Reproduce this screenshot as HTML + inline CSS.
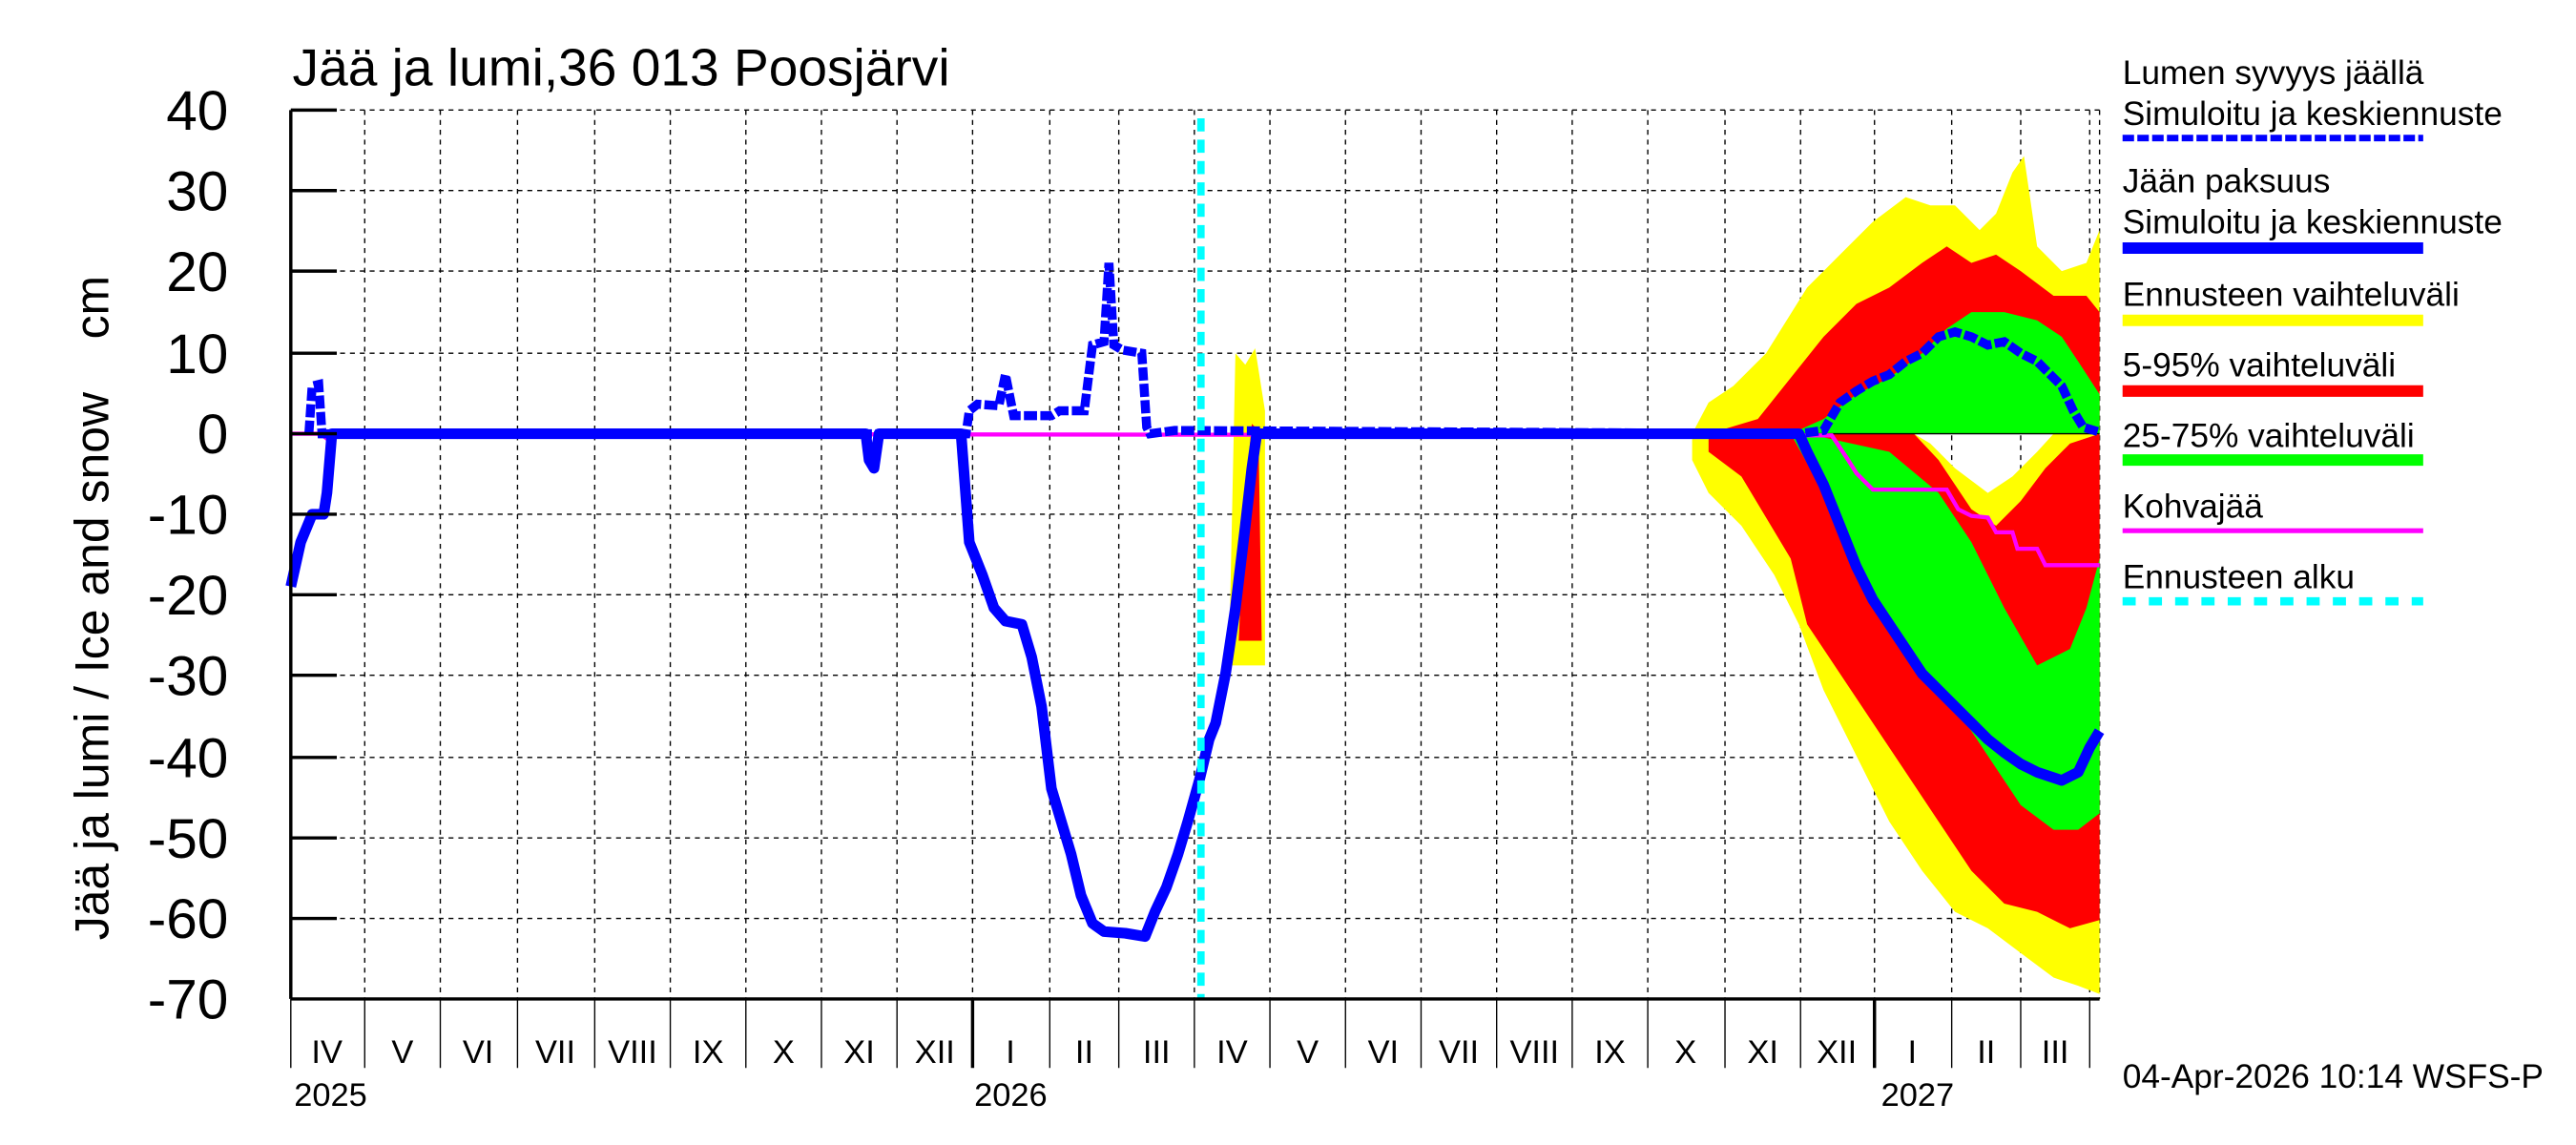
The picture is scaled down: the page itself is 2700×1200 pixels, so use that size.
<!DOCTYPE html>
<html><head><meta charset="utf-8"><style>
html,body{margin:0;padding:0;background:#fff;}
svg{display:block;}
text{font-family:"Liberation Sans",sans-serif;fill:#000;}
</style></head><body>
<svg width="2700" height="1200" viewBox="0 0 1568 696.9" xmlns="http://www.w3.org/2000/svg">
<rect width="1568" height="697" fill="#fff"/>
<text x="178" y="52" font-size="32">Jää ja lumi,36 013 Poosjärvi</text>
<!-- grid -->
<g stroke="#000" stroke-width="0.8" stroke-dasharray="3,3" fill="none">
<line x1="177" y1="67" x2="1278" y2="67"/><line x1="177" y1="116" x2="1278" y2="116"/>
<line x1="177" y1="165" x2="1278" y2="165"/><line x1="177" y1="215" x2="1278" y2="215"/>
<line x1="177" y1="313" x2="1278" y2="313"/><line x1="177" y1="362" x2="1278" y2="362"/>
<line x1="177" y1="411" x2="1278" y2="411"/><line x1="177" y1="461" x2="1278" y2="461"/>
<line x1="177" y1="510" x2="1278" y2="510"/><line x1="177" y1="559" x2="1278" y2="559"/>
<line x1="222" y1="67" x2="222" y2="608"/><line x1="268" y1="67" x2="268" y2="608"/>
<line x1="315" y1="67" x2="315" y2="608"/><line x1="362" y1="67" x2="362" y2="608"/>
<line x1="408" y1="67" x2="408" y2="608"/><line x1="454" y1="67" x2="454" y2="608"/>
<line x1="500" y1="67" x2="500" y2="608"/><line x1="546" y1="67" x2="546" y2="608"/>
<line x1="592" y1="67" x2="592" y2="608"/><line x1="639" y1="67" x2="639" y2="608"/>
<line x1="681" y1="67" x2="681" y2="608"/><line x1="727" y1="67" x2="727" y2="608"/>
<line x1="773" y1="67" x2="773" y2="608"/><line x1="819" y1="67" x2="819" y2="608"/>
<line x1="865" y1="67" x2="865" y2="608"/><line x1="911" y1="67" x2="911" y2="608"/>
<line x1="957" y1="67" x2="957" y2="608"/><line x1="1003" y1="67" x2="1003" y2="608"/>
<line x1="1050" y1="67" x2="1050" y2="608"/><line x1="1096" y1="67" x2="1096" y2="608"/>
<line x1="1141" y1="67" x2="1141" y2="608"/><line x1="1188" y1="67" x2="1188" y2="608"/>
<line x1="1230" y1="67" x2="1230" y2="608"/><line x1="1272" y1="67" x2="1272" y2="608"/>
<line x1="1278" y1="67" x2="1278" y2="608"/>
</g>
<!-- upper bands -->
<polygon fill="#ffff00" points="1030,264 1040,245 1055,235 1075,215 1100,175 1120,155 1140,135 1160,120 1175,125 1190,125 1205,140 1215,130 1225,105 1232,95 1240,150 1255,165 1270,160 1278,140 1278,264"/>
<polygon fill="#ff0000" points="1040,264 1070,255 1090,230 1110,205 1130,185 1150,175 1170,160 1185,150 1200,160 1215,155 1230,165 1250,180 1270,180 1278,190 1278,264"/>
<polygon fill="#00ff00" points="1090,264 1110,255 1130,240 1150,230 1170,215 1185,200 1200,190 1220,190 1240,195 1255,205 1265,220 1278,240 1278,264"/>
<!-- lower bands -->
<polygon fill="#ffff00" points="1030,264 1165,264 1175,270 1190,285 1210,300 1225,290 1240,275 1250,264 1278,264 1278,605 1265,600 1250,595 1230,580 1210,565 1190,555 1170,530 1150,500 1130,460 1110,420 1095,380 1080,350 1060,320 1040,300 1030,280"/>
<polygon fill="#ff0000" points="1040,264 1165,264 1180,280 1200,310 1215,320 1230,305 1245,285 1260,270 1278,264 1278,560 1260,565 1240,555 1220,550 1200,530 1180,500 1160,470 1140,440 1120,410 1100,380 1090,340 1060,290 1040,275"/>
<polygon fill="#00ff00" points="1090,264 1100,264 1150,275 1180,300 1200,330 1220,370 1240,405 1260,395 1270,370 1278,340 1278,495 1265,505 1250,505 1230,490 1210,460 1190,430 1170,405 1150,380 1130,345 1110,300"/>
<!-- spring 2026 band -->
<polygon fill="#ffff00" points="748,405 752,215 758,222 764,212 770,250 770,405"/>
<polygon fill="#ff0000" points="754,390 758,300 762,258 766,262 768,390"/>
<line x1="1030" y1="264" x2="1278" y2="264" stroke="#000" stroke-width="0.8"/>
<!-- magenta -->
<polyline fill="none" stroke="#ff00ff" stroke-width="2.5" points="177,264 195,264 199,267 203,264 1115,265 1125,280 1130,288 1140,298 1185,298 1192,310 1200,314 1210,315 1215,324 1225,324 1228,334 1240,334 1245,344 1278,344"/>
<!-- ice -->
<polyline fill="none" stroke="#0000ff" stroke-width="6.5" stroke-linejoin="round" points="177,357 183,330 190,313 197,313 199,300 202,264 527,264 529,280 532,285 535,264 585,264 590,330 598,350 605,370 612,378 622,380 628,400 634,430 640,480 646,500 652,520 658,545 665,562 672,567 685,568 697,570 703,555 710,540 717,520 723,500 730,475 736,450 740,440 746,410 752,370 758,320 762,285 765,264 1095,264 1100,275 1110,295 1120,320 1130,345 1140,365 1150,380 1160,395 1170,410 1180,420 1190,430 1200,440 1210,450 1220,458 1230,465 1240,470 1255,475 1265,470 1272,455 1278,445"/>
<!-- snow dashed -->
<polyline fill="none" stroke="#0000ff" stroke-width="5.5" stroke-dasharray="8,2" points="188,264 190,235 194,234 196,264 588,264 590,250 595,246 608,247 612,228 617,253 640,253 645,250 660,250 665,210 672,208 675,160 678,210 683,213 695,215 698,260 700,264 715,262 1095,264 1110,262 1120,245 1130,238 1140,232 1150,228 1160,220 1170,215 1180,205 1190,202 1200,205 1210,210 1220,208 1230,215 1240,220 1255,235 1262,250 1268,260 1278,263"/>
<!-- forecast start -->
<line x1="731" y1="72" x2="731" y2="608" stroke="#00ffff" stroke-width="4.5" stroke-dasharray="8,5"/>
<!-- axes -->
<g stroke="#000" stroke-width="2" fill="none">
<line x1="177" y1="67" x2="177" y2="608"/><line x1="177" y1="608" x2="1278" y2="608"/>
<line x1="177" y1="67" x2="205" y2="67"/><line x1="177" y1="116" x2="205" y2="116"/>
<line x1="177" y1="165" x2="205" y2="165"/><line x1="177" y1="215" x2="205" y2="215"/>
<line x1="177" y1="264" x2="205" y2="264"/><line x1="177" y1="313" x2="205" y2="313"/>
<line x1="177" y1="362" x2="205" y2="362"/><line x1="177" y1="411" x2="205" y2="411"/>
<line x1="177" y1="461" x2="205" y2="461"/><line x1="177" y1="510" x2="205" y2="510"/>
<line x1="177" y1="559" x2="205" y2="559"/>
<line x1="592" y1="608" x2="592" y2="650" stroke-width="2"/><line x1="1141" y1="608" x2="1141" y2="650" stroke-width="2"/>
</g>
<g stroke="#000" stroke-width="0.8">
<line x1="177" y1="608" x2="177" y2="650"/><line x1="222" y1="608" x2="222" y2="650"/><line x1="268" y1="608" x2="268" y2="650"/>
<line x1="315" y1="608" x2="315" y2="650"/><line x1="362" y1="608" x2="362" y2="650"/><line x1="408" y1="608" x2="408" y2="650"/>
<line x1="454" y1="608" x2="454" y2="650"/><line x1="500" y1="608" x2="500" y2="650"/><line x1="546" y1="608" x2="546" y2="650"/>
<line x1="639" y1="608" x2="639" y2="650"/><line x1="681" y1="608" x2="681" y2="650"/><line x1="727" y1="608" x2="727" y2="650"/>
<line x1="773" y1="608" x2="773" y2="650"/><line x1="819" y1="608" x2="819" y2="650"/><line x1="865" y1="608" x2="865" y2="650"/>
<line x1="911" y1="608" x2="911" y2="650"/><line x1="957" y1="608" x2="957" y2="650"/><line x1="1003" y1="608" x2="1003" y2="650"/>
<line x1="1050" y1="608" x2="1050" y2="650"/><line x1="1096" y1="608" x2="1096" y2="650"/><line x1="1188" y1="608" x2="1188" y2="650"/>
<line x1="1230" y1="608" x2="1230" y2="650"/><line x1="1272" y1="608" x2="1272" y2="650"/>
</g>
<g font-size="34" text-anchor="end">
<text x="139" y="79">40</text><text x="139" y="128">30</text><text x="139" y="177">20</text><text x="139" y="227">10</text>
<text x="139" y="276">0</text><text x="139" y="325">-10</text><text x="139" y="374">-20</text><text x="139" y="423">-30</text>
<text x="139" y="473">-40</text><text x="139" y="522">-50</text><text x="139" y="571">-60</text><text x="139" y="620">-70</text>
</g>
<text transform="translate(66,370) rotate(-90)" font-size="29" text-anchor="middle" xml:space="preserve" style="white-space:pre">Jää ja lumi / Ice and snow    cm</text>
<g font-size="20" text-anchor="middle">
<text x="199" y="647">IV</text><text x="245" y="647">V</text><text x="291" y="647">VI</text><text x="338" y="647">VII</text>
<text x="385" y="647">VIII</text><text x="431" y="647">IX</text><text x="477" y="647">X</text><text x="523" y="647">XI</text>
<text x="569" y="647">XII</text><text x="615" y="647">I</text><text x="660" y="647">II</text><text x="704" y="647">III</text>
<text x="750" y="647">IV</text><text x="796" y="647">V</text><text x="842" y="647">VI</text><text x="888" y="647">VII</text>
<text x="934" y="647">VIII</text><text x="980" y="647">IX</text><text x="1026" y="647">X</text><text x="1073" y="647">XI</text>
<text x="1118" y="647">XII</text><text x="1164" y="647">I</text><text x="1209" y="647">II</text><text x="1251" y="647">III</text>
</g>
<g font-size="20">
<text x="179" y="673">2025</text><text x="593" y="673">2026</text><text x="1145" y="673">2027</text>
</g>
<!-- legend -->
<g font-size="20.5">
<text x="1292" y="51">Lumen syvyys jäällä</text><text x="1292" y="76">Simuloitu ja keskiennuste</text>
<text x="1292" y="117">Jään paksuus</text><text x="1292" y="142">Simuloitu ja keskiennuste</text>
<text x="1292" y="186">Ennusteen vaihteluväli</text>
<text x="1292" y="229">5-95% vaihteluväli</text>
<text x="1292" y="272">25-75% vaihteluväli</text>
<text x="1292" y="315">Kohvajää</text>
<text x="1292" y="358">Ennusteen alku</text>
<text x="1292" y="662">04-Apr-2026 10:14 WSFS-P</text>
</g>
<line x1="1292" y1="84" x2="1475" y2="84" stroke="#0000ff" stroke-width="4" stroke-dasharray="7,2"/>
<line x1="1292" y1="151" x2="1475" y2="151" stroke="#0000ff" stroke-width="7"/>
<line x1="1292" y1="195" x2="1475" y2="195" stroke="#ffff00" stroke-width="7"/>
<line x1="1292" y1="238" x2="1475" y2="238" stroke="#ff0000" stroke-width="7"/>
<line x1="1292" y1="280" x2="1475" y2="280" stroke="#00ff00" stroke-width="7"/>
<line x1="1292" y1="323" x2="1475" y2="323" stroke="#ff00ff" stroke-width="3"/>
<line x1="1292" y1="366" x2="1475" y2="366" stroke="#00ffff" stroke-width="5" stroke-dasharray="8,8"/>
</svg>
</body></html>
